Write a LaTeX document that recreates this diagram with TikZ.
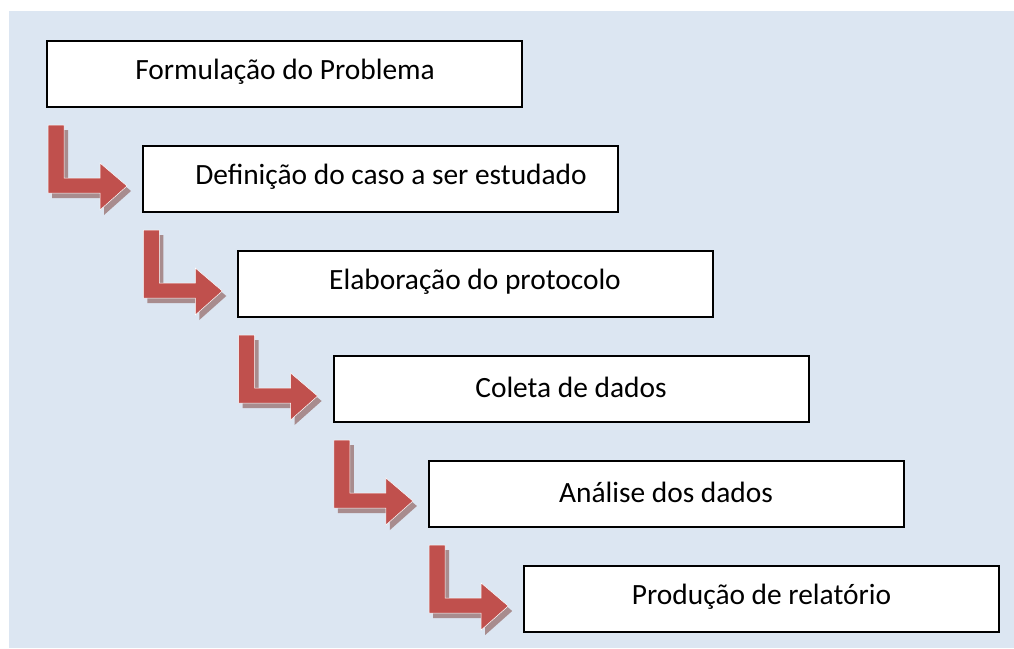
\documentclass[tikz,border=0pt]{standalone}
\usepackage{fontspec}
\setmainfont{Carlito}
\definecolor{bgblue}{RGB}{220,230,242}
\definecolor{arrowred}{RGB}{192,80,77}
\definecolor{shadowc}{RGB}{168,140,142}
\tikzset{
  stepbox/.style={draw=black, line width=2pt, fill=white, minimum width=475pt, minimum height=66pt, inner sep=0pt},
  bentarrow/.style={fill=arrowred, draw=white, line width=0.5pt},
  bentshadow/.style={fill=shadowc},
  lbl/.style={font=\fontsize{29.4}{34}\selectfont, anchor=center},
}
\begin{document}
\begin{tikzpicture}[x=1pt,y=-1pt]
\useasboundingbox (0,0) rectangle (1014,648);
\fill[bgblue] (9,11) rectangle (1014,648);
\foreach \i in {0,...,4}{
  \begin{scope}[shift={({95.3*\i},{105*\i})}]
    \fill[bentshadow] (52,130) -- (68,130) -- (68,183) -- (104,183) -- (104,168) -- (131,191) -- (104,215) -- (104,198) -- (52,198) -- cycle;
    \filldraw[bentarrow] (48,125) -- (64,125) -- (64,178) -- (100,178) -- (100,163) -- (127,186) -- (100,210) -- (100,193) -- (48,193) -- cycle;
  \end{scope}
}
\node[stepbox] (b1) at (284.5,74) {};
\node[stepbox] (b2) at (380,179) {};
\node[stepbox] (b3) at (475,284) {};
\node[stepbox] (b4) at (571,389) {};
\node[stepbox] (b5) at (666,494) {};
\node[stepbox] (b6) at (761.5,599) {};
\node[lbl] (t1) at (285,72) {Formulação do Problema};
\node[lbl] (t2) at (391,177) {Definição do caso a ser estudado};
\node[lbl] (t3) at (475,282) {Elaboração do protocolo};
\node[lbl] (t4) at (571,387) {Coleta de dados};
\node[lbl] (t5) at (666,492) {Análise dos dados};
\node[lbl] (t6) at (761.5,597) {Produção de relatório};
\end{tikzpicture}
\end{document}
